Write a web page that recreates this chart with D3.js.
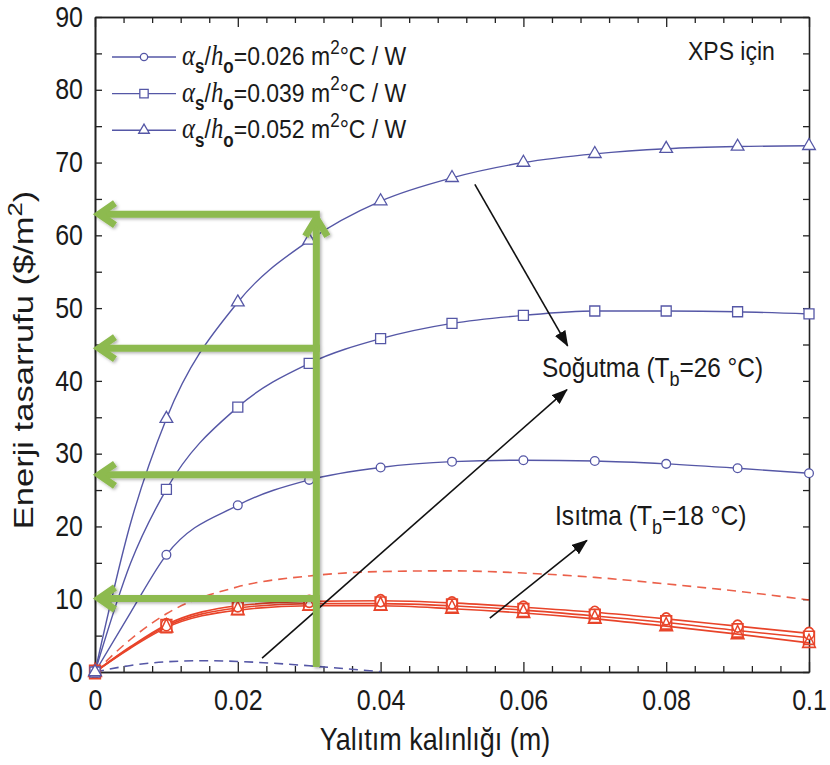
<!DOCTYPE html>
<html><head><meta charset="utf-8">
<script src="https://cdn.jsdelivr.net/npm/d3@7"></script>
<style>
body{margin:0;background:#fff}
text{font-family:"Liberation Sans",Arial,Helvetica,sans-serif;fill:#1a1a1a}
</style>
</head><body>
<svg id="c" width="830" height="765"></svg>
<script>
// ---------- data ----------
const thickness = [0, 0.005, 0.01, 0.02, 0.03, 0.04, 0.05, 0.06, 0.07, 0.08, 0.09, 0.1];
// cooling (Tb = 26 °C), blue
const cool026 = [0, 8.2, 16.1, 22.9, 26.4, 28.1, 28.9, 29.1, 29.0, 28.6, 28.0, 27.3];
const cool039 = [0, 15.0, 25.1, 36.4, 42.4, 45.8, 47.9, 49.0, 49.6, 49.6, 49.5, 49.2];
const cool052 = [0, 20.5, 34.8, 50.8, 59.3, 64.7, 67.9, 70.0, 71.2, 71.9, 72.2, 72.3];
// heating (Tb = 18 °C), red
const heat026 = [0, 3.5, 6.5, 9.1, 9.7, 9.8, 9.5, 8.9, 8.2, 7.3, 6.3, 5.3];
const heat039 = [0, 3.4, 6.3, 8.8, 9.4, 9.4, 9.1, 8.5, 7.7, 6.8, 5.7, 4.7];
const heat052 = [0, 3.3, 6.1, 8.5, 9.1, 9.1, 8.7, 8.1, 7.3, 6.3, 5.2, 4.0];
// dashed reference curves
const heatDashed = [0, 4.5, 8.0, 11.7, 13.2, 13.8, 13.9, 13.6, 13.0, 12.1, 11.1, 9.9];
const coolDashedX = [0, 0.005, 0.01, 0.015, 0.02, 0.025, 0.03, 0.035, 0.04];
const coolDashed = [0, 0.9, 1.4, 1.55, 1.45, 1.2, 0.85, 0.45, 0.05];
const ratioLabels = ["0.026", "0.039", "0.052"];
const xTicks = [0, 0.02, 0.04, 0.06, 0.08, 0.1];
const xTickLabels = ["0", "0.02", "0.04", "0.06", "0.08", "0.1"];
const yTicks = [0, 10, 20, 30, 40, 50, 60, 70, 80, 90];
// green guide arrows (read-off at x = 0.031 m)
const guideX = 0.031;
const guideY = [62.9, 44.5, 27.1, 10.1];
// black annotation arrows [x1, y1, x2, y2] in data units
const arrows = [
  [0.0532, 67.0, 0.0662, 44.8],
  [0.0234, 1.9, 0.0661, 38.8],
  [0.0553, 7.4, 0.0689, 18.1]
];

// ---------- layout ----------
const W = 830, H = 765;
const m = {l: 95, t: 17, r: 21, b: 93};
const pw = W - m.l - m.r, ph = H - m.t - m.b;
const BLUE = "#5557a6", RED = "#e8442a", GREEN = "#8dba4f";
const SY = 1.15;

const svg = d3.select("#c");
const defs = svg.append("defs");
defs.append("clipPath").attr("id", "clip").append("rect").attr("width", pw).attr("height", ph);
const f = defs.append("filter").attr("id", "shadow").attr("x", "-20%").attr("y", "-20%").attr("width", "140%").attr("height", "140%");
f.append("feDropShadow").attr("dx", 1.5).attr("dy", 1.5).attr("stdDeviation", 1.5).attr("flood-color", "#000").attr("flood-opacity", 0.3);
defs.append("marker").attr("id", "ah").attr("markerUnits", "userSpaceOnUse")
  .attr("viewBox", "0 0 16 12").attr("refX", 15).attr("refY", 6)
  .attr("markerWidth", 16).attr("markerHeight", 12).attr("orient", "auto")
  .append("path").attr("d", "M0,0 L16,6 L0,12 Z").attr("fill", "#111");

const g = svg.append("g").attr("transform", `translate(${m.l},${m.t})`);
const x = d3.scaleLinear().domain([0, 0.1]).range([0, pw]);
const y = d3.scaleLinear().domain([0, 90]).range([ph, 0]);

// ---------- axes ----------
const xMinor = d3.range(0, 0.1001, 0.004).filter(v => !xTicks.some(t => Math.abs(t - v) < 1e-9));
const yMinor = d3.range(5, 90, 10);
function styleAxis(sel) {
  sel.select(".domain").attr("stroke", "#222").attr("stroke-width", 1.6);
  sel.selectAll(".tick line").attr("stroke", "#222").attr("stroke-width", 1.3);
}
// bottom
g.append("g").attr("transform", `translate(0,${ph})`)
  .call(d3.axisBottom(x).tickValues(xTicks).tickFormat((d, i) => xTickLabels[i]).tickSize(-10).tickSizeOuter(0).tickPadding(15))
  .call(styleAxis)
  .call(s => s.selectAll("text").attr("font-size", 25).attr("fill", "#1a1a1a").attr("transform", `scale(1,${SY})`));
g.append("g").attr("transform", `translate(0,${ph})`)
  .call(d3.axisBottom(x).tickValues(xMinor).tickFormat("").tickSize(-6).tickSizeOuter(0)).call(styleAxis);
// top
g.append("g").call(d3.axisTop(x).tickValues(xTicks).tickFormat("").tickSize(-10).tickSizeOuter(0)).call(styleAxis);
g.append("g").call(d3.axisTop(x).tickValues(xMinor).tickFormat("").tickSize(-6).tickSizeOuter(0)).call(styleAxis);
// left
g.append("g")
  .call(d3.axisLeft(y).tickValues(yTicks).tickSize(-7).tickSizeOuter(0).tickPadding(12))
  .call(styleAxis)
  .call(s => s.selectAll("text").attr("font-size", 25).attr("fill", "#1a1a1a").attr("transform", `scale(1,${SY})`));
g.append("g").call(d3.axisLeft(y).tickValues(yMinor).tickFormat("").tickSize(-7).tickSizeOuter(0)).call(styleAxis);
// right
g.append("g").attr("transform", `translate(${pw},0)`)
  .call(d3.axisRight(y).tickValues(yTicks.concat(yMinor)).tickFormat("").tickSize(-6).tickSizeOuter(0)).call(styleAxis);

// ---------- text helper ----------
function rich(parent, px, py, parts, size, opts = {}) {
  const t = parent.append("text")
    .attr("transform", `translate(${px},${py}) ${opts.rotate ? "rotate(-90) scale(" + opts.rotate + ",1)" : "scale(1," + SY + ")"}`)
    .attr("font-size", size).attr("text-anchor", opts.anchor || "start");
  let shift = 0;
  parts.forEach(p => {
    const s = typeof p === "string" ? {t: p} : p;
    let target = 0;
    if (s.sub) target = size * 0.32;
    if (s.sup) target = -size * 0.42;
    const ts = t.append("tspan").text(s.t).attr("dy", target - shift);
    shift = target;
    if (s.sub || s.sup) ts.attr("font-size", size * 0.74);
    if (s.it) ts.attr("font-style", "italic").attr("font-family", "'Liberation Serif','Times New Roman',serif").attr("font-size", size * 1.08);
    if (s.b) ts.attr("font-weight", "bold");
  });
  return t;
}

// axis titles
rich(svg, 435, 750, ["Yalıtım kalınlığı (m)"], 27, {anchor: "middle"});
rich(svg, 33, 360, ["Enerji tasarrufu ($/m", {t: "2", sup: true}, ")"], 27, {anchor: "middle", rotate: 1.28});

// ---------- curves ----------
const plot = g.append("g").attr("clip-path", "url(#clip)");
const line = d3.line().x(d => x(d[0])).y(d => y(d[1])).curve(d3.curveMonotoneX);
const zip = (xs, ys) => xs.map((v, i) => [v, ys[i]]);

plot.append("path").datum(zip(thickness, heatDashed)).attr("d", line)
  .attr("fill", "none").attr("stroke", RED).attr("stroke-width", 1.6).attr("stroke-dasharray", "9,6").attr("opacity", 0.85);
plot.append("path").datum(zip(coolDashedX, coolDashed)).attr("d", line)
  .attr("fill", "none").attr("stroke", BLUE).attr("stroke-width", 1.6).attr("stroke-dasharray", "9,6");

const symbols = [d3.symbolCircle, d3.symbolSquare, d3.symbolTriangle];
const blueSizes = [60, 100, 70];
const redSizes = [80, 120, 70];
const coolSeries = [cool026, cool039, cool052];
const heatSeries = [heat026, heat039, heat052];
const markerIdx = thickness.map((v, i) => i).filter(i => Math.abs(Math.round(thickness[i] * 100) - thickness[i] * 100) < 1e-9);

heatSeries.forEach((s, k) => {
  plot.append("path").datum(zip(thickness, s)).attr("d", line)
    .attr("fill", "none").attr("stroke", RED).attr("stroke-width", 1.6);
});
coolSeries.forEach((s, k) => {
  plot.append("path").datum(zip(thickness, s)).attr("d", line)
    .attr("fill", "none").attr("stroke", BLUE).attr("stroke-width", 1.4);
});
heatSeries.forEach((s, k) => {
  g.append("g").selectAll("path").data(markerIdx).join("path")
    .attr("transform", i => `translate(${x(thickness[i])},${y(s[i])}) scale(1,1.2)`)
    .attr("d", d3.symbol(symbols[k], redSizes[k]))
    .attr("fill", k === 0 ? "#fff" : "none").attr("stroke", RED).attr("stroke-width", 1.4);
});
coolSeries.forEach((s, k) => {
  g.append("g").selectAll("path").data(markerIdx).join("path")
    .attr("transform", i => `translate(${x(thickness[i])},${y(s[i])})`)
    .attr("d", d3.symbol(symbols[k], blueSizes[k]))
    .attr("fill", "#fff").attr("stroke", BLUE).attr("stroke-width", 1.3);
});

// ---------- legend ----------
const leg = svg.append("g");
ratioLabels.forEach((lab, k) => {
  const ly = 57 + k * 36.6;
  leg.append("line").attr("x1", 112).attr("x2", 176).attr("y1", ly).attr("y2", ly).attr("stroke", BLUE).attr("stroke-width", 1.4);
  leg.append("path").attr("transform", `translate(144,${ly})`).attr("d", d3.symbol(symbols[k], blueSizes[k] * 0.7))
    .attr("fill", "#fff").attr("stroke", BLUE).attr("stroke-width", 1.3);
  rich(leg, 182, ly + 8, [{t: "α", it: true}, {t: "s", sub: true, b: true}, "/", {t: "h", it: true}, {t: "o", sub: true, b: true},
    "=" + lab + " m", {t: "2", sup: true}, "°C / W"], 23);
});

// ---------- annotations ----------
rich(svg, 688, 60, ["XPS için"], 23);
rich(svg, 542, 377, ["Soğutma (T", {t: "b", sub: true}, "=26 °C)"], 24.4);
rich(svg, 555, 525, ["Isıtma (T", {t: "b", sub: true}, "=18 °C)"], 24.6);

arrows.forEach(a => {
  g.append("line").attr("x1", x(a[0])).attr("y1", y(a[1])).attr("x2", x(a[2])).attr("y2", y(a[3]))
    .attr("stroke", "#111").attr("stroke-width", 1.6).attr("marker-end", "url(#ah)");
});

// green read-off arrows
const gg = g.append("g").attr("filter", "url(#shadow)").attr("fill", "none").attr("stroke", GREEN)
  .attr("stroke-width", 7).attr("stroke-linejoin", "miter").attr("stroke-linecap", "butt");
const gx = x(guideX);
gg.append("line").attr("x1", gx).attr("x2", gx).attr("y1", y(0) - 5).attr("y2", y(guideY[0]) + 4);
gg.append("polyline").attr("points", `${gx - 11},${y(guideY[0]) + 22} ${gx},${y(guideY[0]) + 4} ${gx + 11},${y(guideY[0]) + 22}`);
guideY.forEach(v => {
  const yy = y(v);
  gg.append("line").attr("x1", gx + 3.5).attr("x2", x(0) + 5).attr("y1", yy).attr("y2", yy);
  gg.append("polyline").attr("points", `${x(0) + 20},${yy - 11} ${x(0) + 4},${yy} ${x(0) + 20},${yy + 11}`);
});
</script>
</body></html>
